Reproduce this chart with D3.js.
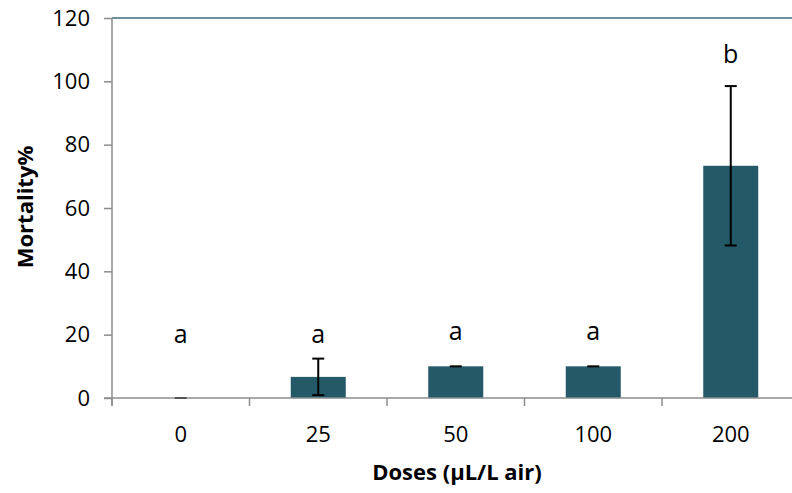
<!DOCTYPE html>
<html>
<head>
<meta charset="utf-8">
<script src="https://cdn.jsdelivr.net/npm/d3@7"></script>
<style>
  body { margin: 0; background: #fff; }
  svg { display: block; font-family: "Open Sans", sans-serif; }
</style>
</head>
<body>
<div id="chart"></div>
<script>
const doses = ['0', '25', '50', '100', '200']
const mortality = [0, 6.67, 10, 10, 73.33]
const errors = [0, 5.77, 0, 0, 25.17]
const letters = ['a', 'a', 'a', 'a', 'b']
const letterY = [17.4, 17.4, 18.3, 18.3, 105.8]
const yTicks = [0, 20, 40, 60, 80, 100, 120]

const w = 792
const h = 493
const plotLeft = 112
const plotTop = 18
const plotBottom = 398
const plotRight = 799.5

const svg = d3.select('#chart')
  .append('svg')
  .attr('width', w)
  .attr('height', h)

const xScale = d3.scaleBand()
  .domain(doses)
  .range([plotLeft, plotRight])
  .paddingInner(0.6)
  .paddingOuter(0.3)

const yScale = d3.scaleLinear()
  .domain([0, 120])
  .range([plotBottom, plotTop])

const axisColor = '#8c8c8c'

// top border line
svg.append('line')
  .attr('x1', plotLeft).attr('x2', w)
  .attr('y1', yScale(120)).attr('y2', yScale(120))
  .attr('stroke', '#3d6d78')
  .attr('stroke-width', 1.5)

// bars
svg.selectAll('rect.bar')
  .data(mortality)
  .enter()
  .append('rect')
  .attr('class', 'bar')
  .attr('x', (d, i) => xScale(doses[i]))
  .attr('y', d => yScale(d))
  .attr('width', xScale.bandwidth())
  .attr('height', d => plotBottom - yScale(d))
  .attr('fill', '#245a68')

// y axis
const yAxis = d3.axisLeft(yScale).tickValues(yTicks).tickSize(8).tickPadding(14)
const gy = svg.append('g')
  .attr('transform', `translate(${plotLeft}, 0)`)
  .call(yAxis)
gy.select('.domain').attr('stroke', axisColor).attr('stroke-width', 1.5)
  .attr('d', `M0,${plotTop}V${plotBottom + 8}`)
gy.selectAll('.tick line').attr('stroke', axisColor).attr('stroke-width', 1.5)
gy.selectAll('.tick text').attr('font-size', 22).attr('fill', '#000')
  .attr('font-family', '"Open Sans", sans-serif')

// x axis
const xAxis = d3.axisBottom(xScale).tickSize(0).tickPadding(28)
const gx = svg.append('g')
  .attr('transform', `translate(0, ${plotBottom})`)
  .call(xAxis)
gx.select('.domain').attr('stroke', axisColor).attr('stroke-width', 1.5)
  .attr('d', `M${plotLeft - 8},0H${w}`)
gx.selectAll('.tick text').attr('font-size', 22).attr('fill', '#000')
  .attr('font-family', '"Open Sans", sans-serif')

// category boundary ticks
const step = xScale.step()
svg.selectAll('line.ctick')
  .data(d3.range(doses.length + 1))
  .enter()
  .append('line')
  .attr('class', 'ctick')
  .attr('x1', i => plotLeft + i * step)
  .attr('x2', i => plotLeft + i * step)
  .attr('y1', plotBottom)
  .attr('y2', plotBottom + 8)
  .attr('stroke', axisColor)
  .attr('stroke-width', 1.5)

// error bars
const cx = i => xScale(doses[i]) + xScale.bandwidth() / 2
const eb = svg.append('g').attr('stroke', '#000').attr('stroke-width', 2)
mortality.forEach((d, i) => {
  const e = errors[i]
  if (e > 0) {
    eb.append('line')
      .attr('x1', cx(i)).attr('x2', cx(i))
      .attr('y1', yScale(d + e)).attr('y2', yScale(Math.max(d - e, 0)))
    eb.append('line')
      .attr('x1', cx(i) - 6).attr('x2', cx(i) + 6)
      .attr('y1', yScale(d + e)).attr('y2', yScale(d + e))
  }
  eb.append('line')
    .attr('x1', cx(i) - 6).attr('x2', cx(i) + 6)
    .attr('y1', yScale(Math.max(d - e, 0))).attr('y2', yScale(Math.max(d - e, 0)))
    .attr('stroke', i === 0 ? '#555' : '#000')
})

// significance letters
svg.selectAll('text.letter')
  .data(letters)
  .enter()
  .append('text')
  .attr('class', 'letter')
  .attr('x', (d, i) => cx(i))
  .attr('y', (d, i) => yScale(letterY[i]))
  .attr('text-anchor', 'middle')
  .attr('font-size', 25)
  .text(d => d)

// axis titles
svg.append('text')
  .attr('x', 457)
  .attr('y', 480)
  .attr('text-anchor', 'middle')
  .attr('font-size', 22)
  .attr('font-weight', 'bold')
  .text('Doses (µL/L air)')

svg.append('text')
  .attr('transform', `translate(33, 207) rotate(-90)`)
  .attr('text-anchor', 'middle')
  .attr('font-size', 22)
  .attr('font-weight', 'bold')
  .text('Mortality%')
</script>
</body>
</html>
